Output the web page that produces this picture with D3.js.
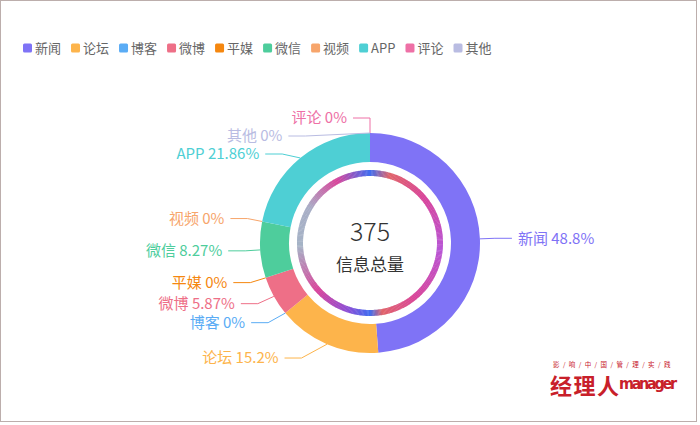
<!DOCTYPE html>
<html>
<head>
<meta charset="utf-8">
<script src="https://cdn.jsdelivr.net/npm/d3@7"></script>
<style>
  body { margin: 0; background: #fff; }
  svg { display: block; font-family: "Noto Sans CJK SC", "Noto Sans", sans-serif; }
</style>
</head>
<body>
<svg id="chart" width="700" height="425"></svg>
<script>
// data
const categories = ['新闻', '论坛', '博客', '微博', '平媒', '微信', '视频', 'APP', '评论', '其他'];
const counts = [183, 57, 0, 22, 0, 31, 0, 82, 0, 0];
const percentLabels = ['48.8%', '15.2%', '0%', '5.87%', '0%', '8.27%', '0%', '21.86%', '0%', '0%'];
const colors = ['#7f73f6', '#fdb44b', '#5aacf5', '#ee6f87', '#f5870f', '#4ecd9c', '#f7a56b', '#4ecfd4', '#ee70a6', '#b9bce2'];
const totalLabel = '信息总量';

// gradient stops for the thin inner ring (angle in degrees clockwise from top)
const ringStops = [
  [0, '#3f6df0'], [16, '#e0646a'], [50, '#d8449a'], [95, '#b856d6'], [140, '#d8449a'],
  [170, '#e0646a'], [180, '#3f6df0'], [198, '#8a4fd6'], [228, '#d8449a'], [268, '#a5b3c6'],
  [300, '#a8aec6'], [332, '#d8449a'], [360, '#3f6df0']
];

const svg = d3.select('#chart');
const cx = 370, cy = 243;
const rOuter = 110, rInner = 81;

svg.append('rect').attr('x', 0.5).attr('y', 0.5).attr('width', 696).attr('height', 421)
  .attr('fill', '#fff').attr('stroke', '#bcaeac');

// legend
const legend = svg.append('g').attr('class', 'legend');
let lx = 23;
categories.forEach((c, i) => {
  const g = legend.append('g').attr('transform', `translate(${lx},48)`);
  g.append('rect').attr('x', 0).attr('y', -4.5).attr('width', 9).attr('height', 9)
    .attr('rx', 1.5).attr('fill', colors[i]);
  const t = g.append('text').attr('x', 12).attr('y', 0).attr('dy', '0.36em')
    .attr('font-size', 13).attr('fill', '#666').text(c);
  lx += 12 + t.node().getComputedTextLength() + 10;
});

// donut
const total = d3.sum(counts);
const pie = d3.pie().sort(null).value(d => d)(counts);
const arc = d3.arc().innerRadius(rInner).outerRadius(rOuter);
const chart = svg.append('g').attr('transform', `translate(${cx},${cy})`);
chart.selectAll('path.slice')
  .data(pie.filter(d => d.value > 0))
  .join('path')
  .attr('class', 'slice')
  .attr('d', arc)
  .attr('fill', d => colors[d.index]);

// inner gradient ring
const ringArc = d3.arc().innerRadius(67).outerRadius(73);
const stopAngles = ringStops.map(s => s[0]);
const colorAt = a => {
  const j = Math.max(1, d3.bisectRight(stopAngles, a));
  const [a0, c0] = ringStops[j - 1], [a1, c1] = ringStops[Math.min(j, ringStops.length - 1)];
  return d3.interpolateRgb(c0, c1)(a1 === a0 ? 0 : (a - a0) / (a1 - a0));
};
chart.selectAll('path.ring')
  .data(d3.range(0, 360, 1))
  .join('path')
  .attr('class', 'ring')
  .attr('d', a => ringArc({ startAngle: a * Math.PI / 180, endAngle: (a + 1.3) * Math.PI / 180 }))
  .attr('fill', a => colorAt(a + 0.5));

// center text
chart.append('text').attr('y', -11).attr('text-anchor', 'middle').attr('dy', '0.36em')
  .attr('font-size', 25).attr('font-weight', 300).attr('fill', '#333').text(total);
chart.append('text').attr('y', 22).attr('text-anchor', 'middle').attr('dy', '0.36em')
  .attr('font-size', 17).attr('fill', '#333').text(totalLabel);

// labels: radial first segment, overlap push, then x re-aligned on an ellipse per quadrant
const len1 = 15, len2 = 17, textGap = 6, gap = 18, rA = rOuter + len1;
const labels = pie.map(d => {
  const a = (d.startAngle + d.endAngle) / 2;
  const s = Math.sin(a), c = -Math.cos(a);
  return { i: d.index, left: s <= 1e-9, p1: [rOuter * s, rOuter * c], dx: rA * s, y: rA * c };
});
['left', 'right'].forEach(side => {
  const grp = labels.filter(l => (side === 'left') === l.left)
    .sort((a, b) => a.y - b.y || a.i - b.i);
  for (let k = 1; k < grp.length; k++) {
    if (grp[k].y < grp[k - 1].y + gap) grp[k].y = grp[k - 1].y + gap;
  }
  [grp.filter(l => l.y <= 0), grp.filter(l => l.y > 0)].forEach((semi, bottom) => {
    if (!semi.length) return;
    const far = semi.reduce((m, l) => Math.abs(l.y) > Math.abs(m.y) ? l : m);
    let rB = Math.abs(far.dx) < rA ? Math.sqrt(far.y * far.y / (1 - far.dx * far.dx / rA / rA)) : rA;
    if (bottom && side === 'left') rB *= 1.1;
    semi.forEach(l => {
      const dx = Math.sqrt(Math.max(0, 1 - l.y * l.y / rB / rB)) * rA;
      l.p2 = [l.left ? -dx : dx, l.y];
    });
  });
});

const lab = chart.selectAll('g.label').data(labels).join('g').attr('class', 'label');
lab.append('polyline')
  .attr('points', l => {
    const x3 = l.p2[0] + (l.left ? -len2 : len2);
    return [l.p1, l.p2, [x3, l.p2[1]]].map(p => p.join(',')).join(' ');
  })
  .attr('fill', 'none').attr('stroke', l => colors[l.i]).attr('stroke-width', 1);
lab.append('text')
  .attr('x', l => l.p2[0] + (l.left ? -len2 - textGap : len2 + textGap))
  .attr('y', l => l.p2[1]).attr('dy', '0.36em')
  .attr('text-anchor', l => l.left ? 'end' : 'start')
  .attr('font-size', 15).attr('fill', l => colors[l.i])
  .text(l => `${categories[l.i]} ${percentLabels[l.i]}`);

// watermark
const wm = svg.append('g').attr('transform', 'translate(550,394)').attr('fill', '#c8202a');
wm.append('text').attr('x', 3).attr('y', -27).attr('font-size', 6.5).attr('letter-spacing', 3.4)
  .text('影/响/中/国/管/理/实/践');
wm.append('text').attr('x', 0).attr('y', 0).attr('font-size', 22).attr('font-weight', 'bold')
  .attr('textLength', 69).text('经理人');
wm.append('text').attr('x', 69).attr('y', -5).attr('font-size', 16).attr('font-weight', 'bold')
  .attr('font-family', '"Liberation Sans Narrow", "DejaVu Sans Condensed", sans-serif')
  .attr('textLength', 58).text('manager');
</script>
</body>
</html>
